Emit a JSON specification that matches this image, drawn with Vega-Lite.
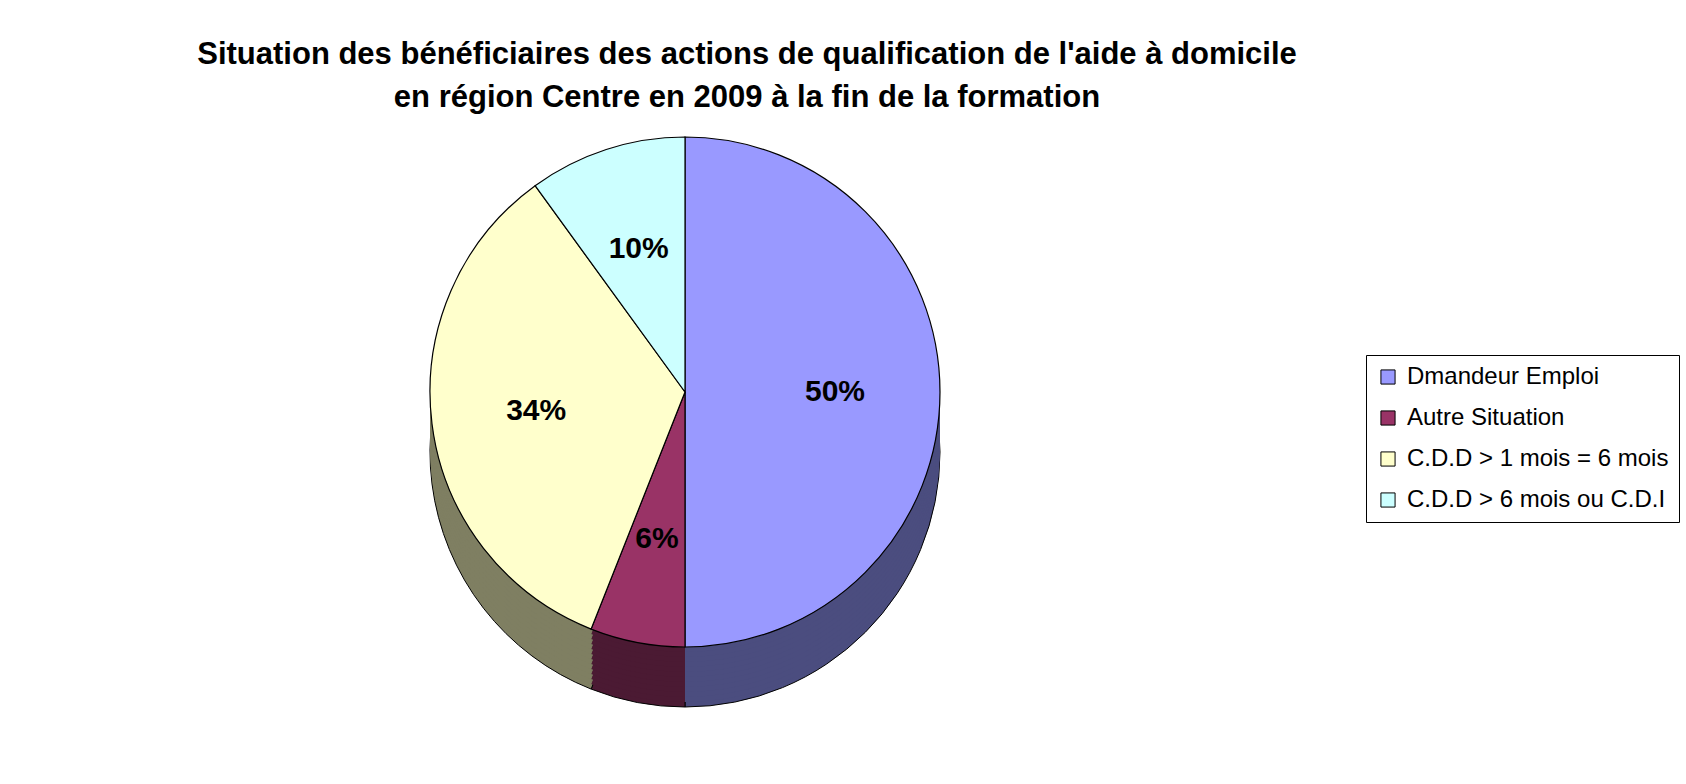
{
  "$schema": "https://vega.github.io/schema/vega-lite/v6.json",
  "autosize": {"type": "none"},
  "width": 1370,
  "height": 524,
  "padding": {"left": 0, "top": 130, "right": 316, "bottom": 130},
  "background": "white",
  "title": {
    "text": ["Situation des bénéficiaires des actions de qualification de l'aide à domicile", "en région Centre en 2009 à la fin de la formation"],
    "font": "Liberation Sans",
    "fontSize": 31,
    "fontWeight": "bold",
    "color": "black",
    "anchor": "middle",
    "dx": 62,
    "offset": 16,
    "lineHeight": 43
  },
  "data": {
    "values": [
      {"situation": "Dmandeur Emploi", "part": 0.50, "rang": 1},
      {"situation": "Autre Situation", "part": 0.06, "rang": 2},
      {"situation": "C.D.D > 1 mois = 6 mois", "part": 0.34, "rang": 3},
      {"situation": "C.D.D > 6 mois ou C.D.I", "part": 0.10, "rang": 4}
    ]
  },
  "encoding": {
    "theta": {"field": "part", "type": "quantitative", "stack": true},
    "order": {"field": "rang", "type": "quantitative"},
    "color": {"field": "situation", "type": "nominal", "legend": null,
      "scale": {"domain": ["Dmandeur Emploi", "Autre Situation", "C.D.D > 1 mois = 6 mois", "C.D.D > 6 mois ou C.D.I"],
                "range": ["#4B4D7F", "#4B1A33", "#7F7F62", "#668080"]}}
  },
  "layer": [
    {"mark": {"type": "arc", "radius": 255, "yOffset": 60, "stroke": "black", "strokeWidth": 1}},
    {"mark": {"type": "arc", "radius": 255, "yOffset": 55}},
    {"mark": {"type": "arc", "radius": 255, "yOffset": 50}},
    {"mark": {"type": "arc", "radius": 255, "yOffset": 45}},
    {"mark": {"type": "arc", "radius": 255, "yOffset": 40}},
    {"mark": {"type": "arc", "radius": 255, "yOffset": 35}},
    {"mark": {"type": "arc", "radius": 255, "yOffset": 30}},
    {"mark": {"type": "arc", "radius": 255, "yOffset": 25}},
    {"mark": {"type": "arc", "radius": 255, "yOffset": 20}},
    {"mark": {"type": "arc", "radius": 255, "yOffset": 15}},
    {"mark": {"type": "arc", "radius": 255, "yOffset": 10}},
    {"mark": {"type": "arc", "radius": 255, "yOffset": 5}},
    {
      "mark": {"type": "arc", "radius": 255, "stroke": "black", "strokeWidth": 1.2},
      "encoding": {
        "color": {"field": "situation", "type": "nominal",
          "scale": {"domain": ["Dmandeur Emploi", "Autre Situation", "C.D.D > 1 mois = 6 mois", "C.D.D > 6 mois ou C.D.I"],
                    "range": ["#9999FF", "#993366", "#FFFFCC", "#CCFFFF"]},
          "legend": {
            "title": null,
            "orient": "none",
            "legendX": 1366,
            "legendY": 225,
            "strokeColor": "black",
            "fillColor": "white",
            "padding": 10,
            "symbolType": "square",
            "symbolSize": 200,
            "symbolStrokeColor": "black",
            "symbolStrokeWidth": 1,
            "symbolOpacity": 1,
            "labelFont": "Liberation Sans",
            "labelFontSize": 24,
            "labelColor": "black",
            "labelLimit": 400,
            "labelOffset": 7,
            "rowPadding": 17
          }
        }
      }
    },
    {
      "mark": {"type": "text", "radius": 150, "font": "Liberation Sans", "fontSize": 30, "fontWeight": "bold", "color": "black"},
      "encoding": {
        "color": null,
        "text": {"field": "part", "type": "quantitative", "format": ".0%"}
      }
    }
  ],
  "resolve": {"scale": {"color": "independent"}},
  "config": {"view": {"stroke": null}}
}
